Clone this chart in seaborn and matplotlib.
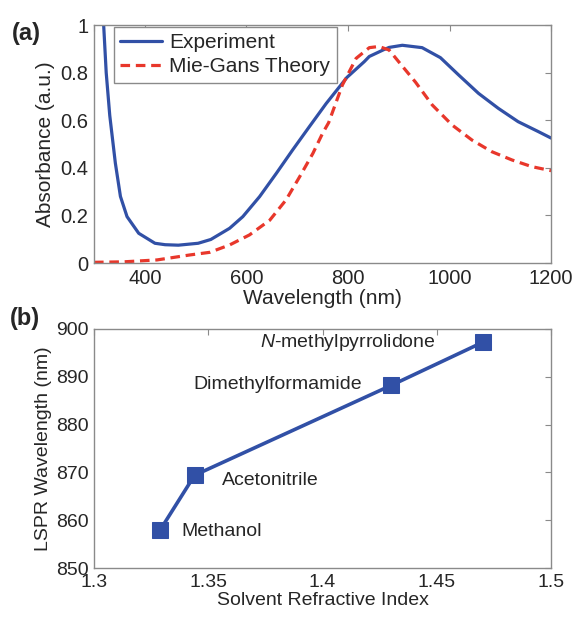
import matplotlib
matplotlib.use("Agg")
import matplotlib.pyplot as plt
import seaborn as sns
import pandas as pd

# (a) absorbance spectra
exp_wavelength = [315, 319, 324, 331, 342, 352, 365, 388, 420, 440, 466, 505, 530, 567,
                  593, 626, 659, 691, 724, 757, 798, 832, 842, 871, 881, 907, 946, 982,
                  1018, 1057, 1096, 1135, 1175, 1200]
exp_absorbance = [1.08, 1.0, 0.80, 0.62, 0.42, 0.28, 0.195, 0.125, 0.083, 0.077, 0.075,
                  0.083, 0.099, 0.146, 0.195, 0.279, 0.377, 0.475, 0.573, 0.67, 0.78,
                  0.846, 0.868, 0.897, 0.906, 0.915, 0.905, 0.863, 0.79, 0.713, 0.65,
                  0.594, 0.552, 0.525]

theory_wavelength = [300, 358, 424, 489, 528, 567, 606, 646, 678, 705, 731, 750, 762,
                     789, 816, 842, 861, 881, 904, 933, 966, 1005, 1044, 1083, 1123,
                     1162, 1200]
theory_absorbance = [0.003, 0.005, 0.013, 0.034, 0.045, 0.076, 0.118, 0.18, 0.265, 0.363,
                     0.461, 0.545, 0.59, 0.748, 0.86, 0.905, 0.91, 0.895, 0.835, 0.76,
                     0.664, 0.58, 0.517, 0.468, 0.433, 0.405, 0.388]

# (b) LSPR peak vs solvent refractive index
solvents = ["Methanol", "Acetonitrile", "Dimethylformamide", "$N$-methylpyrrolidone"]
refractive_index = [1.329, 1.344, 1.430, 1.470]
lspr_wavelength = [858.0, 869.4, 888.2, 897.2]
label_x = [1.3384, 1.356, 1.3434, 1.3728]
label_y = [857.7, 868.3, 888.3, 897.1]

blue = "#3150a6"
red = "#e8372b"
grey = "#8a8a8a"

sns.set_style("white")
plt.rcParams["font.family"] = ["Liberation Sans", "DejaVu Sans"]
plt.rcParams["mathtext.fontset"] = "custom"
plt.rcParams["mathtext.it"] = "Liberation Sans:italic"
plt.rcParams["mathtext.rm"] = "Liberation Sans"

fig = plt.figure(figsize=(5.75, 6.17), dpi=100)
ax1 = fig.add_axes([0.1635, 0.5737, 0.795, 0.3857])
ax2 = fig.add_axes([0.1635, 0.0794, 0.795, 0.3874])

exp_df = pd.DataFrame({"wl": exp_wavelength, "abs": exp_absorbance})
th_df = pd.DataFrame({"wl": theory_wavelength, "abs": theory_absorbance})

sns.lineplot(data=exp_df, x="wl", y="abs", ax=ax1, color=blue, lw=2.3,
             label="Experiment", sort=False, estimator=None)
sns.lineplot(data=th_df, x="wl", y="abs", ax=ax1, color=red, lw=2.3,
             linestyle=(0, (3.0, 1.8)), label="Mie-Gans Theory", sort=False, estimator=None)

ax1.set_xlim(300, 1200)
ax1.set_ylim(0, 1)
ax1.set_xticks([300, 400, 600, 800, 1000, 1200])
ax1.set_xticklabels(["", "400", "600", "800", "1000", "1200"])
ax1.set_yticks([0, 0.2, 0.4, 0.6, 0.8, 1.0])
ax1.set_yticklabels(["0", "0.2", "0.4", "0.6", "0.8", "1"])
ax1.set_xlabel("Wavelength (nm)", fontsize=15, labelpad=1)
ax1.set_ylabel("Absorbance (a.u.)", fontsize=15, labelpad=4)
leg = ax1.legend(loc="upper left", bbox_to_anchor=(0.044, 0.992), borderaxespad=0,
                 fontsize=15, handlelength=2.0, handletextpad=0.35, labelspacing=0.25,
                 borderpad=0.3, fancybox=False, framealpha=1, edgecolor=grey)
leg.get_frame().set_linewidth(1.0)

nd = pd.DataFrame({"n": refractive_index, "lspr": lspr_wavelength})
sns.lineplot(data=nd, x="n", y="lspr", ax=ax2, color=blue, lw=2.6, marker="s",
             markersize=11, markeredgecolor=blue, sort=False, estimator=None)
for name, tx, ty in zip(solvents, label_x, label_y):
    ax2.text(tx, ty, name, fontsize=14, va="center", ha="left")

ax2.set_xlim(1.3, 1.5)
ax2.set_ylim(850, 900)
ax2.set_xticks([1.3, 1.35, 1.4, 1.45, 1.5])
ax2.set_xticklabels(["1.3", "1.35", "1.4", "1.45", "1.5"])
ax2.set_yticks([850, 860, 870, 880, 890, 900])
ax2.set_xlabel("Solvent Refractive Index", fontsize=14, labelpad=1)
ax2.set_ylabel("LSPR Wavelength (nm)", fontsize=14, labelpad=3)

for ax, fs in [(ax1, 14.5), (ax2, 14)]:
    ax.tick_params(direction="in", top=True, right=True, length=4, width=0.8,
                   color=grey, labelsize=fs, pad=4)
    for sp in ax.spines.values():
        sp.set_color(grey)
        sp.set_linewidth(1.0)

fig.text(0.02, 0.945, "(a)", fontsize=17, fontweight="bold", va="center")
fig.text(0.017, 0.483, "(b)", fontsize=17, fontweight="bold", va="center")

fig.savefig("out.png", dpi=100)
